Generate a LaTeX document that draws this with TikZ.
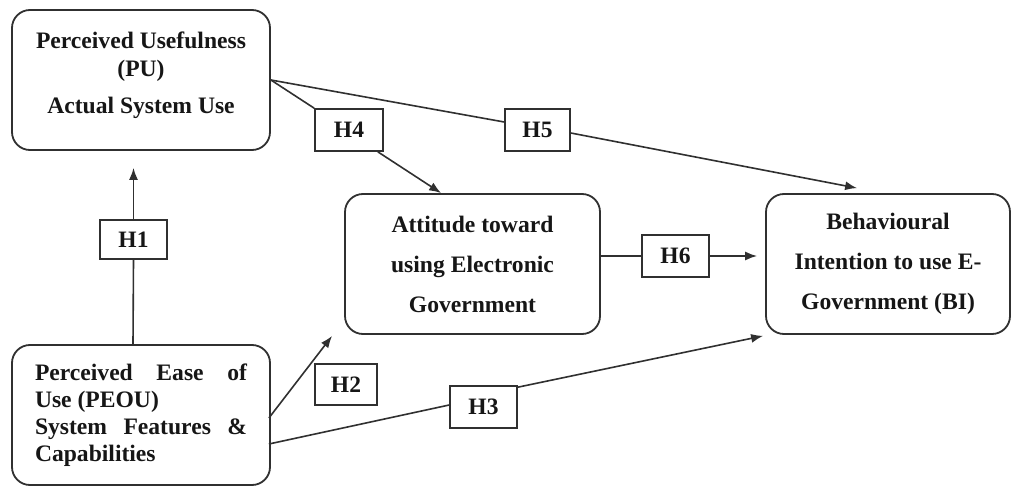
\documentclass[tikz,border=0pt]{standalone}
\usepackage{fontspec}
\setmainfont{Liberation Serif}
\usetikzlibrary{arrows.meta,calc}
\definecolor{linec}{HTML}{303030}
\definecolor{txtc}{HTML}{161616}
\begin{document}
\begin{tikzpicture}[x=1pt,y=-1pt,
  bigbox/.style={draw=linec, line width=1.8pt, rounded corners=18pt, fill=white, inner sep=0pt},
  hbox/.style={draw=linec, line width=1.6pt, fill=white, inner sep=0pt, font=\fontsize{23.5}{26}\selectfont\bfseries, text=txtc},
  txt/.style={text=txtc, align=center},
  conn/.style={draw=linec, line width=1.6pt},
  arr/.style={conn, -{Latex[length=12pt,width=9pt]}}
]
\useasboundingbox (0,0) rectangle (1011,486);

% main boxes
\node[bigbox, minimum width=258pt, minimum height=140pt] (PU) at (141,80) {};
\node[txt, font=\fontsize{23.6}{28}\selectfont\bfseries] (PUt) at (141,75) {Perceived Usefulness\\(PU)\\[9pt]Actual System Use};

\node[bigbox, minimum width=258pt, minimum height=140pt, text width=212pt, align=justify, text=txtc, font=\fontsize{23.6}{27}\selectfont\bfseries] (PEOU) at (141,415) {Perceived Ease of\linebreak Use (PEOU)\\System Features \&\linebreak Capabilities};

\node[bigbox, txt, minimum width=255pt, minimum height=140pt, font=\fontsize{23.6}{40}\selectfont\bfseries] (Att) at (472.5,264) {Attitude toward\\using Electronic\\Government};

\node[bigbox, txt, minimum width=244pt, minimum height=140pt, font=\fontsize{23.6}{40}\selectfont\bfseries] (BI) at (888,264) {Behavioural\\Intention to use E-\\Government (BI)};

% hypothesis labels
\node[hbox, minimum width=67pt, minimum height=39pt] (H1) at (133.5,239.5) {H1};
\node[hbox, minimum width=68pt, minimum height=42pt] (H4) at (349,130) {H4};
\node[hbox, minimum width=65pt, minimum height=42pt] (H5) at (537.5,130) {H5};
\node[hbox, minimum width=67pt, minimum height=42pt] (H6) at (675.5,256) {H6};
\node[hbox, minimum width=62pt, minimum height=41pt] (H2) at (346,384.5) {H2};
\node[hbox, minimum width=67pt, minimum height=42pt] (H3) at (483.5,407) {H3};

% connectors
\draw[conn] ($(PEOU.north)+(-8,0)$) -- (H1.south);
\draw[arr] (H1.north) -- ($(PU.south)+(-7.5,17)$);

\draw[conn] (PU.east) -- (H4.north west);
\draw[arr] ($(H4.south east)+(-6,0)$) -- ($(Att.north west)+(97,0)$);

\draw[conn] (PU.east) -- ($(H5.west)+(0,-8)$);
\draw[arr] ($(H5.east)+(0,3)$) -- ($(BI.north west)+(92,-5)$);

\draw[conn] (Att.east |- H6.west) -- (H6.west);
\draw[arr] (H6.east) -- ($(BI.west |- H6.east)+(-8,0)$);

\draw[arr] ($(PEOU.east)+(-2,3)$) -- ($(Att.south west)+(-12,1)$);

\draw[conn] ($(PEOU.east)+(-2,29)$) -- ($(H3.west)+(0,-2)$);
\draw[arr] ($(H3.north east)+(0,2)$) -- ($(BI.south west)+(-2,1)$);
\end{tikzpicture}
\end{document}
